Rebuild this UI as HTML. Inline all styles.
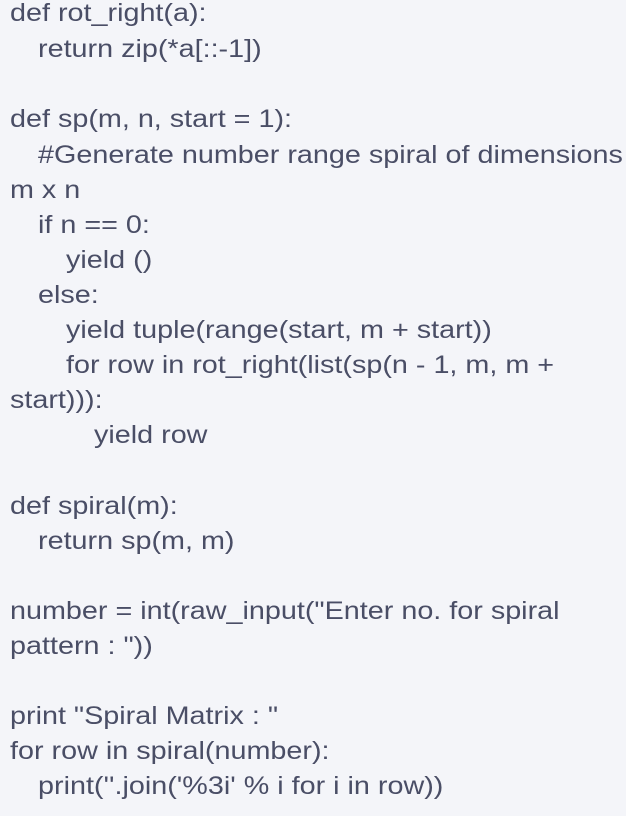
<!DOCTYPE html>
<html><head><meta charset="utf-8"><style>
html,body{margin:0;padding:0;}
body{width:626px;height:816px;background:#f4f5f9;overflow:hidden;position:relative;font-family:"Liberation Sans",sans-serif;font-size:25px;color:#4a4e66;}
.l{position:absolute;left:10px;height:35px;line-height:35px;white-space:pre;transform:scaleX(1.15);transform-origin:0 50%;}
</style></head><body>
<div class="l" style="top:-4px">def rot_right(a):</div>
<div class="l" style="top:32px;left:38px">return zip(*a[::-1])</div>
<div class="l" style="top:102px">def sp(m, n, start = 1):</div>
<div class="l" style="top:138px;left:38px">#Generate number range spiral of dimensions</div>
<div class="l" style="top:173px">m x n</div>
<div class="l" style="top:208px;left:38px">if n == 0:</div>
<div class="l" style="top:243px;left:66px">yield ()</div>
<div class="l" style="top:278px;left:38px">else:</div>
<div class="l" style="top:313px;left:66px">yield tuple(range(start, m + start))</div>
<div class="l" style="top:348px;left:66px">for row in rot_right(list(sp(n - 1, m, m +</div>
<div class="l" style="top:383px">start))):</div>
<div class="l" style="top:418px;left:94px">yield row</div>
<div class="l" style="top:489px">def spiral(m):</div>
<div class="l" style="top:524px;left:38px">return sp(m, m)</div>
<div class="l" style="top:594px">number = int(raw_input("Enter no. for spiral</div>
<div class="l" style="top:629px">pattern : "))</div>
<div class="l" style="top:699px">print "Spiral Matrix : "</div>
<div class="l" style="top:734px">for row in spiral(number):</div>
<div class="l" style="top:769px;left:38px">print(''.join('%3i' % i for i in row))</div>
</body></html>
